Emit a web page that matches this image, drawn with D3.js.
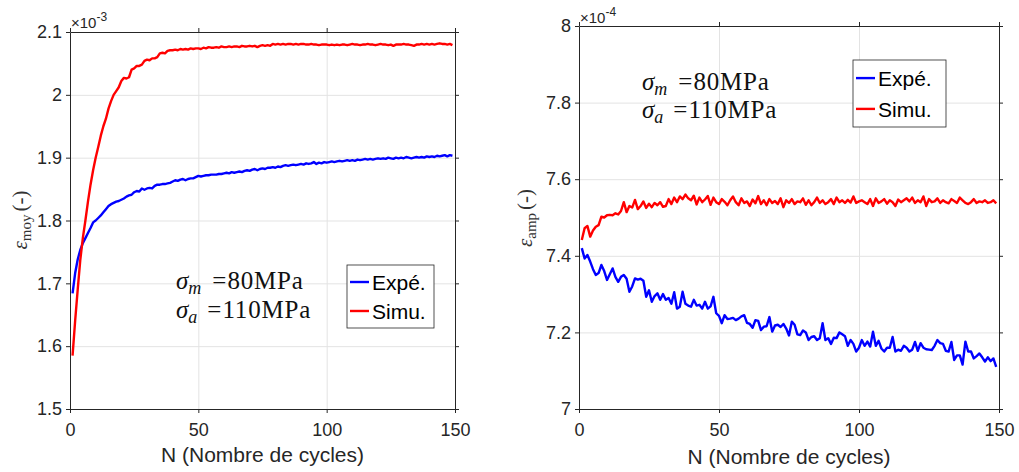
<!DOCTYPE html>
<html><head><meta charset="utf-8">
<script src="https://cdn.jsdelivr.net/npm/d3@7"></script>
<style>body{margin:0;background:#fff} svg{display:block}</style>
</head><body>
<script>
// ---------------- DATA ----------------
const xTicks = [0, 50, 100, 150];
const moyTicks = [1.5, 1.6, 1.7, 1.8, 1.9, 2, 2.1];
const ampTicks = [7, 7.2, 7.4, 7.6, 7.8, 8];
const seriesNames = ["Expé.", "Simu."];
const moyExponent = "-3";
const ampExponent = "-4";
const xLabel = "N (Nombre de cycles)";

// eps_moy (x1e-3), cycles 1..149
const moyExpe = [1.684,1.716,1.738,1.753,1.764,1.772,1.780,1.788,1.797,1.800,
1.804,1.808,1.813,1.818,1.823,1.826,1.828,1.830,1.831,1.833,
1.835,1.838,1.840,1.841,1.845,1.847,1.846,1.851,1.849,1.851,
1.852,1.851,1.855,1.857,1.857,1.858,1.858,1.859,1.860,1.862,
1.864,1.863,1.865,1.866,1.864,1.866,1.867,1.867,1.869,1.871,
1.870,1.871,1.872,1.872,1.873,1.873,1.873,1.874,1.874,1.875,
1.876,1.875,1.877,1.876,1.877,1.878,1.877,1.879,1.880,1.879,
1.881,1.882,1.880,1.882,1.883,1.882,1.884,1.884,1.885,1.884,
1.886,1.885,1.887,1.888,1.887,1.888,1.889,1.888,1.889,1.890,
1.889,1.891,1.890,1.891,1.893,1.890,1.892,1.891,1.893,1.892,
1.893,1.894,1.893,1.894,1.895,1.894,1.895,1.896,1.895,1.896,
1.895,1.897,1.896,1.897,1.898,1.897,1.898,1.897,1.898,1.899,
1.898,1.899,1.898,1.900,1.899,1.898,1.900,1.899,1.900,1.899,
1.901,1.900,1.899,1.900,1.901,1.900,1.901,1.900,1.902,1.901,
1.902,1.901,1.903,1.902,1.903,1.904,1.902,1.904,1.903];
const moySimu = [1.585,1.640,1.690,1.737,1.772,1.800,1.830,1.857,1.880,1.900,
1.917,1.935,1.950,1.962,1.978,1.990,2.000,2.006,2.012,2.022,
2.027,2.026,2.028,2.040,2.042,2.046,2.046,2.048,2.054,2.056,
2.055,2.058,2.058,2.060,2.066,2.067,2.066,2.070,2.071,2.071,
2.072,2.071,2.073,2.072,2.073,2.072,2.074,2.073,2.074,2.074,
2.073,2.075,2.074,2.076,2.075,2.075,2.076,2.075,2.077,2.076,
2.076,2.077,2.076,2.077,2.077,2.076,2.078,2.077,2.077,2.078,
2.077,2.078,2.076,2.078,2.079,2.078,2.079,2.078,2.081,2.080,
2.081,2.080,2.081,2.080,2.081,2.081,2.080,2.081,2.080,2.081,
2.081,2.080,2.080,2.081,2.080,2.080,2.079,2.080,2.080,2.080,
2.079,2.080,2.079,2.080,2.079,2.080,2.080,2.079,2.080,2.081,
2.080,2.080,2.079,2.080,2.080,2.081,2.080,2.080,2.079,2.080,
2.081,2.080,2.080,2.079,2.080,2.078,2.080,2.080,2.080,2.081,
2.080,2.080,2.079,2.078,2.080,2.080,2.081,2.080,2.081,2.080,
2.081,2.080,2.081,2.082,2.081,2.081,2.080,2.081,2.079];

// eps_amp (x1e-4), cycles 1..149
const ampExpe = [7.420,7.393,7.402,7.385,7.365,7.350,7.355,7.376,7.360,7.337,
7.352,7.367,7.345,7.332,7.345,7.350,7.340,7.306,7.320,7.341,
7.338,7.340,7.335,7.293,7.310,7.280,7.295,7.302,7.285,7.300,
7.285,7.290,7.275,7.305,7.262,7.267,7.306,7.275,7.270,7.267,
7.285,7.270,7.272,7.262,7.280,7.262,7.268,7.293,7.250,7.243,
7.224,7.245,7.235,7.236,7.238,7.232,7.236,7.242,7.245,7.225,
7.222,7.212,7.232,7.230,7.206,7.215,7.216,7.240,7.202,7.218,
7.220,7.214,7.222,7.210,7.192,7.228,7.220,7.195,7.193,7.205,
7.200,7.180,7.188,7.190,7.180,7.185,7.224,7.180,7.185,7.170,
7.186,7.185,7.200,7.195,7.190,7.165,7.180,7.170,7.150,7.160,
7.180,7.165,7.176,7.163,7.202,7.165,7.178,7.158,7.150,7.160,
7.160,7.188,7.150,7.155,7.152,7.165,7.160,7.150,7.155,7.175,
7.152,7.172,7.160,7.156,7.155,7.154,7.165,7.180,7.172,7.170,
7.152,7.150,7.175,7.128,7.140,7.140,7.116,7.176,7.150,7.150,
7.132,7.138,7.145,7.135,7.124,7.135,7.125,7.132,7.110];
const ampSimu = [7.441,7.472,7.478,7.450,7.466,7.476,7.480,7.502,7.500,7.506,
7.507,7.506,7.511,7.508,7.517,7.540,7.514,7.530,7.526,7.546,
7.522,7.530,7.542,7.525,7.536,7.527,7.538,7.532,7.540,7.528,
7.530,7.548,7.535,7.552,7.540,7.555,7.548,7.560,7.550,7.545,
7.557,7.534,7.552,7.540,7.547,7.556,7.533,7.552,7.540,7.535,
7.548,7.541,7.532,7.545,7.555,7.540,7.532,7.550,7.538,7.542,
7.530,7.547,7.537,7.556,7.535,7.545,7.532,7.548,7.538,7.543,
7.535,7.550,7.527,7.545,7.538,7.548,7.535,7.542,7.540,7.550,
7.533,7.545,7.532,7.540,7.552,7.538,7.545,7.535,7.540,7.548,
7.535,7.552,7.540,7.545,7.538,7.546,7.539,7.555,7.538,7.542,
7.545,7.540,7.535,7.548,7.530,7.550,7.538,7.542,7.548,7.536,
7.545,7.540,7.530,7.547,7.540,7.545,7.550,7.542,7.552,7.538,
7.545,7.540,7.555,7.530,7.548,7.540,7.542,7.550,7.538,7.545,
7.540,7.537,7.548,7.543,7.538,7.552,7.545,7.538,7.535,7.540,
7.548,7.538,7.542,7.540,7.545,7.538,7.540,7.545,7.537];

// ---------------- DRAW ----------------
const W = 1019, H = 472;
const AX = "#262626", GRID = "#e3e3e3";
const COLORS = ["#0000ff", "#ff0000"];
const SANS = "'Liberation Sans', Arial, Helvetica, sans-serif";
const SERIF = "'Liberation Serif', 'Times New Roman', serif";

const svg = d3.select("body").append("svg").attr("width", W).attr("height", H);

const panels = [
  { box: [70, 455, 32, 409], yDomain: [1.5, 2.1], yTicks: moyTicks, series: [moyExpe, moySimu],
    exponent: moyExponent, expPos: [71, 28], ylab: "moy", ylabPos: [27, 220],
    ann: [176, 289, 318], legend: { x: 347, y: 265, w: 87, h: 63 }, xlabY: 462 },
  { box: [579, 999, 26, 409], yDomain: [7, 8], yTicks: ampTicks, series: [ampExpe, ampSimu],
    exponent: ampExponent, expPos: [580, 23], ylab: "amp", ylabPos: [532, 218],
    ann: [642, 90, 118], legend: { x: 853, y: 60, w: 93, h: 67 }, xlabY: 464 }
];

panels.forEach(p => {
  const [x0, x1, y0, y1] = p.box;
  const x = d3.scaleLinear().domain([0, 150]).range([x0, x1]);
  const y = d3.scaleLinear().domain(p.yDomain).range([y1, y0]);
  const g = svg.append("g");

  // grid
  g.append("g").attr("transform", `translate(0,${y1})`)
    .call(d3.axisBottom(x).tickValues(xTicks).tickSize(-(y1 - y0)).tickFormat(""))
    .call(s => { s.select(".domain").remove(); s.selectAll("line").attr("stroke", GRID); });
  g.append("g").attr("transform", `translate(${x0},0)`)
    .call(d3.axisLeft(y).tickValues(p.yTicks).tickSize(-(x1 - x0)).tickFormat(""))
    .call(s => { s.select(".domain").remove(); s.selectAll("line").attr("stroke", GRID); });

  // data lines
  const line = d3.line().x((d, i) => x(i + 1)).y(d => y(d));
  p.series.forEach((data, k) => {
    g.append("path").datum(data).attr("d", line)
      .attr("fill", "none").attr("stroke", COLORS[k]).attr("stroke-width", 2.4)
      .attr("stroke-linejoin", "round");
  });

  // axes
  const fmt = d3.format("~g");
  const style = s => {
    s.select(".domain").attr("stroke", AX).attr("stroke-width", 1);
    s.selectAll(".tick line").attr("stroke", AX);
    s.selectAll("text").attr("fill", AX).attr("font-family", SANS).attr("font-size", 18);
  };
  g.append("g").attr("transform", `translate(0,${y1})`)
    .call(d3.axisBottom(x).tickValues(xTicks).tickSizeInner(4).tickSizeOuter(0).tickPadding(10).tickFormat(fmt))
    .call(style);
  g.append("g").attr("transform", `translate(0,${y0})`)
    .call(d3.axisTop(x).tickValues(xTicks).tickSizeInner(4).tickSizeOuter(0).tickFormat(""))
    .call(style);
  g.append("g").attr("transform", `translate(${x0},0)`)
    .call(d3.axisLeft(y).tickValues(p.yTicks).tickSizeInner(4).tickSizeOuter(0).tickPadding(4).tickFormat(fmt))
    .call(style);
  g.append("g").attr("transform", `translate(${x1},0)`)
    .call(d3.axisRight(y).tickValues(p.yTicks).tickSizeInner(4).tickSizeOuter(0).tickFormat(""))
    .call(style);

  // exponent label
  const ex = g.append("text").attr("x", p.expPos[0]).attr("y", p.expPos[1])
    .attr("font-family", SANS).attr("font-size", 15).attr("fill", AX);
  ex.append("tspan").text("×10");
  ex.append("tspan").attr("dy", -7).attr("font-size", 12).text(p.exponent);

  // x label
  g.append("text").attr("x", (x0 + x1) / 2).attr("y", p.xlabY).attr("text-anchor", "middle")
    .attr("font-family", SANS).attr("font-size", 21).attr("fill", AX).text(xLabel);

  // y label
  const yl = g.append("text").attr("transform", `translate(${p.ylabPos[0]},${p.ylabPos[1]}) rotate(-90)`)
    .attr("text-anchor", "middle").attr("font-family", SERIF).attr("font-size", 21).attr("fill", "#333");
  yl.append("tspan").attr("font-style", "italic").text("ε");
  yl.append("tspan").attr("font-size", 15).attr("dy", 4).text(p.ylab);
  yl.append("tspan").attr("dy", -4).attr("dx", 3).text("(-)");

  // annotation
  const [ax, ay1, ay2] = p.ann;
  [["m", "80MPa", ay1, 11], ["a", "110MPa", ay2, 10]].forEach(([sub, rest, yy, gap]) => {
    const t = g.append("text").attr("x", ax).attr("y", yy)
      .attr("font-family", SERIF).attr("font-size", 25).attr("fill", "#111");
    t.append("tspan").attr("font-style", "italic").text("σ");
    t.append("tspan").attr("font-style", "italic").attr("font-size", 18).attr("dy", 5).text(sub);
    t.append("tspan").attr("dy", -5).attr("dx", gap).text("=");
    t.append("tspan").attr("dx", 1).attr("letter-spacing", 0.8).text(rest);
  });

  // legend
  const L = p.legend;
  const lg = g.append("g");
  lg.append("rect").attr("x", L.x).attr("y", L.y).attr("width", L.w).attr("height", L.h)
    .attr("fill", "#fff").attr("stroke", AX).attr("stroke-width", 0.8);
  seriesNames.forEach((name, k) => {
    const ly = L.y + L.h * (k === 0 ? 0.27 : 0.73);
    lg.append("line").attr("x1", L.x + 3).attr("x2", L.x + 22).attr("y1", ly).attr("y2", ly)
      .attr("stroke", COLORS[k]).attr("stroke-width", 2.4);
    lg.append("text").attr("x", L.x + 25).attr("y", ly + 8)
      .attr("font-family", SANS).attr("font-size", 21).attr("fill", "#000").text(name);
  });
});
</script>
</body></html>
